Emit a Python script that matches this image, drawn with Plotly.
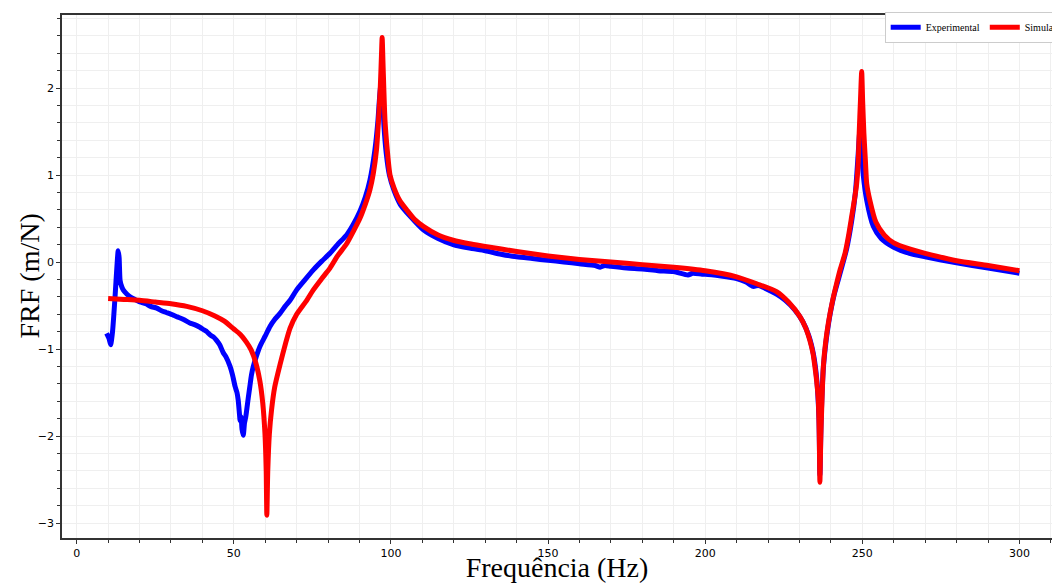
import plotly.graph_objects as go

# ---- Experimental (blue) ----
exp_freq = [9.5, 10.3, 10.8, 11.4, 12.2, 12.8, 13.2, 13.5, 13.8, 14.3, 14.8, 16, 17, 18.5, 20.1, 22, 23.5,
            25.5, 27, 28.5, 30.7, 32, 34, 36, 37.5, 39.2, 40.5, 41.4, 42.5, 43.5, 44.5, 45.5, 46.6, 47.5,
            48.8, 49.6, 50.4, 51, 51.4, 51.8, 52, 52.3, 52.6, 53, 53.4, 53.8, 54.1, 54.6, 55.1, 55.6, 56.2,
            57.2, 58.3, 60, 61.5, 63, 64.7, 66.3, 67.9, 70, 72.5, 75.3, 78, 80.6, 83, 85.9, 88, 90.1, 91.8,
            93.3, 94.9, 95.8, 96.4, 96.8, 97.0, 97.3, 97.8, 98.5, 99.5, 101, 103, 106, 110.3, 115, 119.8,
            125, 130, 135, 140, 145, 150, 155, 160, 165, 166.6, 168, 170, 175, 180, 185, 190, 194.5, 196,
            199, 200, 205, 210, 213, 215.3, 217, 219, 222.7, 225.5, 228.5, 231, 233, 234.5, 235.5, 236.2,
            236.5, 236.9, 237.6, 238.5, 239.5, 241, 243, 245, 246.6, 247.8, 248.7, 249.2, 249.7, 250.3,
            251.4, 253.5, 256, 260, 265, 270, 280, 290, 300]
exp_frf = [-0.82, -0.88, -0.95, -0.80, -0.40, -0.05, 0.13, 0.05, -0.21, -0.28, -0.32, -0.37, -0.40, -0.43,
           -0.46, -0.48, -0.51, -0.53, -0.56, -0.58, -0.61, -0.63, -0.66, -0.70, -0.72, -0.75, -0.78, -0.80,
           -0.84, -0.86, -0.90, -0.95, -1.04, -1.09, -1.20, -1.30, -1.43, -1.50, -1.59, -1.75, -1.82, -1.78,
           -1.92, -1.99, -1.85, -1.78, -1.70, -1.56, -1.43, -1.30, -1.20, -1.08, -0.97, -0.85, -0.74, -0.66,
           -0.59, -0.51, -0.44, -0.32, -0.21, -0.09, 0.01, 0.10, 0.20, 0.31, 0.43, 0.58, 0.74, 0.94, 1.29,
           1.60, 1.90, 2.05, 2.10, 1.95, 1.55, 1.25, 1.00, 0.82, 0.66, 0.53, 0.37, 0.27, 0.20, 0.16, 0.13,
           0.09, 0.06, 0.04, 0.02, 0.00, -0.02, -0.04, -0.06, -0.04, -0.05, -0.07, -0.08, -0.10, -0.11,
           -0.15, -0.13, -0.14, -0.14, -0.16, -0.19, -0.23, -0.28, -0.27, -0.30, -0.37, -0.44, -0.55, -0.68,
           -0.85, -1.07, -1.35, -1.80, -2.45, -1.80, -1.22, -0.90, -0.65, -0.38, -0.12, 0.15, 0.47, 0.80,
           1.25, 1.50, 1.30, 1.00, 0.71, 0.41, 0.27, 0.17, 0.10, 0.06, -0.01, -0.07, -0.13]

# ---- Simulado (red) ----
sim_freq = [10, 15, 20, 25, 30, 35, 40, 44, 47, 50, 52, 54, 55.5, 57, 58.3, 59.2, 59.9, 60.3, 60.5, 60.8,
            61.3, 62, 63, 64.7, 66.5, 67.9, 70, 73.2, 75.3, 78, 80.6, 83, 85.9, 88, 90.1, 91.8, 93.3, 94.4,
            95.4, 96, 96.6, 97.0, 97.2, 97.5, 98.1, 98.8, 99.7, 101, 102.9, 105, 107.5, 110.3, 115, 119.8,
            125, 130, 140, 150, 160, 170, 180, 190, 200, 210, 216.4, 222.7, 226.5, 230.2, 232, 233.3, 234.3,
            234.9, 235.5, 236, 236.3, 236.5, 236.8, 237.2, 237.6, 238.3, 239.2, 240.5, 241.8, 243, 244.5,
            245.6, 246.6, 247.5, 248.2, 248.7, 249, 249.4, 249.8, 250.1, 250.5, 251, 251.4, 252.4, 254.3,
            257, 260, 265, 270, 280, 290, 300]
sim_frf = [-0.42, -0.43, -0.44, -0.46, -0.48, -0.51, -0.56, -0.62, -0.68, -0.77, -0.83, -0.92, -1.01, -1.16,
           -1.37, -1.62, -1.97, -2.40, -2.91, -2.40, -1.98, -1.70, -1.44, -1.18, -0.93, -0.76, -0.60, -0.44,
           -0.32, -0.19, -0.07, 0.07, 0.21, 0.35, 0.50, 0.66, 0.83, 1.02, 1.29, 1.60, 2.00, 2.40, 2.58, 2.25,
           1.63, 1.30, 1.00, 0.85, 0.70, 0.60, 0.49, 0.41, 0.31, 0.25, 0.21, 0.18, 0.12, 0.07, 0.03, 0.00,
           -0.03, -0.06, -0.10, -0.17, -0.25, -0.34, -0.46, -0.63, -0.76, -0.90, -1.05, -1.20, -1.38, -1.59,
           -2.00, -2.53, -2.00, -1.55, -1.20, -0.93, -0.70, -0.45, -0.25, -0.08, 0.10, 0.30, 0.52, 0.72,
           0.90, 1.15, 1.48, 1.85, 2.19, 1.85, 1.48, 1.15, 0.90, 0.71, 0.46, 0.31, 0.22, 0.15, 0.10, 0.015,
           -0.04, -0.10]

x_ticks = [0, 50, 100, 150, 200, 250, 300]
y_ticks = [-3, -2, -1, 0, 1, 2]

fig = go.Figure()
fig.add_trace(go.Scatter(x=exp_freq, y=exp_frf, mode="lines", name="Experimental",
                         line=dict(color="#0000ff", width=5, shape="spline", smoothing=0.6)))
fig.add_trace(go.Scatter(x=sim_freq, y=sim_frf, mode="lines", name="Simulado",
                         line=dict(color="#ff0000", width=5, shape="spline", smoothing=0.6)))

grid = "#efefef"
fig.update_layout(
    width=1052, height=583,
    margin=dict(l=62, r=0, t=15, b=45, autoexpand=False),
    paper_bgcolor="white", plot_bgcolor="white",
    showlegend=True,
    legend=dict(orientation="h", x=0.831, xanchor="left", y=1.006, yanchor="top",
                bgcolor="white", bordercolor="#cccccc", borderwidth=1,
                font=dict(family="Liberation Serif", size=10, color="black"),
                itemwidth=30, tracegroupgap=0),
    xaxis=dict(range=[-4.68, 310.36], tickvals=x_ticks, ticks="outside", ticklen=4,
               tickcolor="#333", showline=True, linecolor="#333", linewidth=1.5, mirror=True,
               showgrid=True, gridcolor=grid, gridwidth=1, zeroline=False,
               minor=dict(dtick=10, tick0=0, ticks="outside", ticklen=3, tickcolor="#333",
                          showgrid=True, gridcolor=grid, gridwidth=1),
               tickfont=dict(family="DejaVu Sans", size=11, color="black"),
               title=dict(text="Frequência (Hz)", standoff=6,
                          font=dict(family="Liberation Serif", size=28, color="black"))),
    yaxis=dict(range=[-3.172, 2.839], tickvals=y_ticks, ticks="outside", ticklen=4,
               tickcolor="#333", showline=True, linecolor="#333", linewidth=1.5,
               showgrid=True, gridcolor=grid, gridwidth=1, zeroline=False,
               minor=dict(dtick=0.2, tick0=0, ticks="outside", ticklen=3, tickcolor="#333",
                          showgrid=True, gridcolor=grid, gridwidth=1),
               tickfont=dict(family="DejaVu Sans", size=11, color="black")),
    annotations=[dict(text="FRF (m/N)", xref="paper", yref="paper", x=0, y=0.5,
                      xanchor="center", yanchor="middle", xshift=-33, textangle=-90,
                      showarrow=False,
                      font=dict(family="Liberation Serif", size=28, color="black"))],
)

fig.write_html("out.html")
